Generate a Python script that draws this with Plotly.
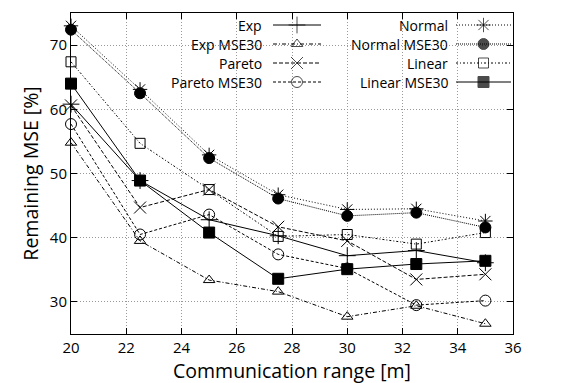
import plotly.graph_objects as go

x_vals = [20, 22.5, 25, 27.5, 30, 32.5, 35]
exp = [60.8, 48.9, 42.8, 40.3, 37.2, 38.0, 36.1]
exp_mse30 = [54.8, 39.5, 33.4, 31.6, 27.7, 29.4, 26.6]
pareto = [60.6, 44.7, 47.5, 41.7, 39.5, 33.5, 34.3]
pareto_mse30 = [57.7, 40.5, 43.6, 37.4, 35.2, 29.5, 30.2]
normal = [73.0, 63.1, 52.9, 46.7, 44.4, 44.5, 42.6]
normal_mse30 = [72.4, 62.5, 52.4, 46.1, 43.4, 43.9, 41.6]
linear = [67.4, 54.7, 47.5, 40.2, 40.5, 39.0, 40.8]
linear_mse30 = [64.0, 48.9, 40.8, 33.6, 35.1, 35.9, 36.4]

x_ticks = [20, 22, 24, 26, 28, 30, 32, 34, 36]
y_ticks = [30, 40, 50, 60, 70]

FONT = "Open Sans"

series = [
    ("Exp", exp, "solid", "cross-thin-open", 12),
    ("Exp MSE30", exp_mse30, "4px,2px,1px,2px", "triangle-up-open", 10),
    ("Pareto", pareto, "4px,2px", "x-thin-open", 12),
    ("Pareto MSE30", pareto_mse30, "3px,2px", "circle-open", 11),
    ("Normal", normal, "1px,2px", "asterisk-open", 12),
    ("Normal MSE30", normal_mse30, "1px,1px", "circle", 11),
    ("Linear", linear, "2px,2px,1px,2px", "square-open", 10),
    ("Linear MSE30", linear_mse30, "solid", "square", 11),
]

fig = go.Figure()
for name, ys, dash, sym, sz in series:
    fig.add_trace(go.Scatter(
        x=x_vals, y=ys, mode="lines+markers", name=name,
        line=dict(color="black", width=1, dash=dash),
        marker=dict(symbol=sym, size=sz, color="black",
                    line=dict(color="black", width=1)),
        showlegend=False, cliponaxis=False,
    ))

# manual gnuplot-style key drawn on a pixel-space overlay axis
key_cols = [(255, 265, 313), (441, 448, 503)]
key_rows = [17, 36, 55, 74]
annotations = []
for i, (name, ys, dash, sym, sz) in enumerate(series):
    col = key_cols[i // 4]
    ry = key_rows[i % 4]
    fig.add_trace(go.Scatter(
        x=[col[1], (col[1] + col[2]) / 2, col[2]], y=[ry, ry, ry],
        xaxis="x2", yaxis="y2", mode="lines+markers",
        line=dict(color="black", width=1, dash=dash),
        marker=dict(symbol=sym, size=[0, sz, 0], color="black",
                    line=dict(color="black", width=1)),
        showlegend=False, hoverinfo="skip", cliponaxis=False,
    ))
    annotations.append(dict(
        x=col[0], y=ry, xref="x2", yref="y2", text=name, showarrow=False,
        xanchor="right", yanchor="middle", borderpad=0,
        font=dict(family=FONT, size=14, color="black"),
    ))

fig.update_layout(
    width=584, height=383,
    margin=dict(l=63, r=79, t=5, b=57),
    paper_bgcolor="white", plot_bgcolor="white",
    font=dict(family=FONT, size=15, color="black"),
    annotations=annotations,
    xaxis=dict(
        range=[20, 36], tickvals=x_ticks, ticktext=[str(t) for t in x_ticks],
        showgrid=True, gridcolor="#999999", griddash="1px,2px", gridwidth=1,
        showline=True, linecolor="black", linewidth=1, mirror="allticks",
        ticks="inside", ticklen=6, tickcolor="black", zeroline=False,
        title=dict(text="Communication range [m]", font=dict(size=19.5), standoff=6),
        tickfont=dict(size=15),
    ),
    yaxis=dict(
        range=[25, 75], tickvals=y_ticks, ticktext=[str(t) for t in y_ticks],
        showgrid=True, gridcolor="#999999", griddash="1px,2px", gridwidth=1,
        showline=True, linecolor="black", linewidth=1, mirror="allticks",
        ticks="inside", ticklen=6, tickcolor="black", zeroline=False,
        title=dict(text="Remaining MSE [%]", font=dict(size=19.5), standoff=6),
        tickfont=dict(size=15),
    ),
    xaxis2=dict(range=[63, 505], overlaying="x", visible=False, fixedrange=True),
    yaxis2=dict(range=[326, 5], overlaying="y", visible=False, fixedrange=True),
)

fig.write_html("out.html")
